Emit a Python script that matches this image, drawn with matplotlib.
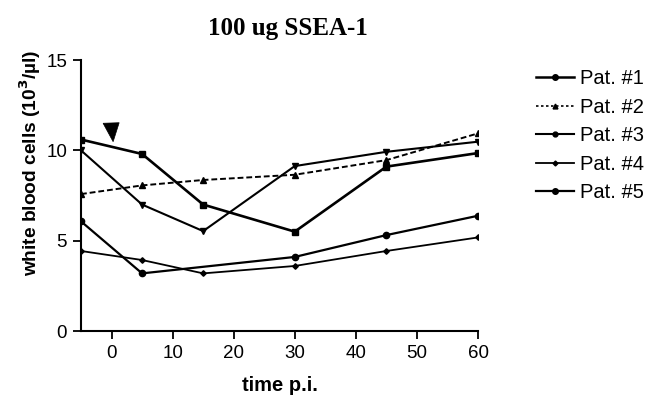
import matplotlib
matplotlib.use("Agg")
import matplotlib.pyplot as plt
from matplotlib.patches import Polygon
from matplotlib.lines import Line2D

# ---- data ----
times = [-5, 5, 15, 30, 45, 60]
times_p5 = [-5, 5, 30, 45, 60]
pat1 = [10.6, 9.8, 7.0, 5.5, 9.1, 9.85]
pat2 = [7.58, 8.06, 8.36, 8.65, 9.46, 10.94]
pat3 = [10.0, 7.0, 5.53, 9.13, 9.92, 10.48]
pat4 = [4.43, 3.93, 3.19, 3.6, 4.43, 5.18]
pat5 = [6.07, 3.19, 4.1, 5.31, 6.38]
labels = ["Pat. #1", "Pat. #2", "Pat. #3", "Pat. #4", "Pat. #5"]
xticks = [0, 10, 20, 30, 40, 50, 60]
yticks = [0, 5, 10, 15]
arrow_tri = [(-1.38, 11.5), (1.25, 11.53), (0.26, 10.48)]

sans = "Liberation Sans"
serif = "Liberation Serif"

fig = plt.figure(figsize=(6.5, 3.95), dpi=100)
ax = fig.add_axes([0.1246, 0.162, 0.6108, 0.686])

ax.plot(times, pat1, color="black", lw=1.9, marker="s", ms=4.5)
ax.plot(times, pat2, color="black", lw=1.4, ls=(0, (3, 1.5)), marker="^", ms=4)
ax.plot(times, pat3, color="black", lw=1.5, marker="v", ms=4)
ax.plot(times, pat4, color="black", lw=1.3, marker="D", ms=2.8)
ax.plot(times_p5, pat5, color="black", lw=1.6, marker="o", ms=4.5)

ax.add_patch(Polygon(arrow_tri, closed=True, facecolor="black", edgecolor="black", lw=0.5))

ax.set_xlim(-5, 60)
ax.set_ylim(0, 15)
ax.set_xticks(xticks)
ax.set_yticks(yticks)
for s in ["top", "right"]:
    ax.spines[s].set_visible(False)
for s in ["left", "bottom"]:
    ax.spines[s].set_linewidth(1.5)
ax.tick_params(axis="both", direction="out", length=6, width=1.3, labelsize=13.5, pad=4)
for lab in ax.get_xticklabels() + ax.get_yticklabels():
    lab.set_fontfamily(sans)

ax.set_title("100 ug SSEA-1", fontfamily=serif, fontweight="bold", fontsize=18, pad=18, x=0.52)
ax.set_xlabel("time p.i.", fontfamily=sans, fontweight="bold", fontsize=14.5, labelpad=10)
ax.set_ylabel("white blood cells (10$^{\\mathbf{3}}$/µl)", fontfamily=sans, fontweight="bold", fontsize=13.8)
ax.yaxis.set_label_coords(-0.095, 0.62)

handles = [
    Line2D([], [], color="black", lw=1.8, marker="o", ms=4),
    Line2D([], [], color="black", lw=1.2, ls=(0, (1.5, 1.5)), marker="^", ms=3.5),
    Line2D([], [], color="black", lw=1.5, marker="o", ms=3.5),
    Line2D([], [], color="black", lw=1.3, marker="D", ms=2.5),
    Line2D([], [], color="black", lw=1.6, marker="o", ms=4),
]
leg = fig.legend(handles, labels, loc="upper left", bbox_to_anchor=(0.812, 0.845),
                 frameon=False, prop={"family": sans, "size": 14.5},
                 handlelength=1.9, handletextpad=0.3, labelspacing=0.47, borderaxespad=0)

fig.savefig("out.png", dpi=100)
